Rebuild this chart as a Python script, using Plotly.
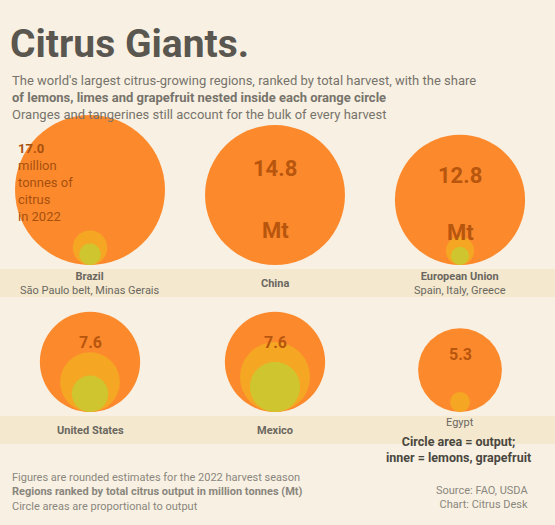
import plotly.graph_objects as go
import numpy as np

# ---- data ----
regions = ["Brazil", "China", "European Union", "United States", "Mexico", "Egypt"]
total_mt = [17.0, 14.8, 12.8, 7.6, 7.6, 5.3]        # all citrus, million tonnes
mid_mt = [0.9, 0.0, 0.6, 2.7, 3.7, 0.3]              # lemons & limes
inner_mt = [0.35, 0.0, 0.25, 1.0, 1.9, 0.0]          # grapefruit
region_notes = ["São Paulo belt, Minas Gerais", "Guangxi, Hunan", "Spain, Italy, Greece",
                "Florida, California", "Veracruz", "Nile Delta"]

W, H = 555, 525
BG = "#f8f1e3"
ORANGE = "#fc8a2d"
AMBER = "#f5a623"
LIME = "#cfc52f"

cols_x = [90, 275, 460]
row_base = [265, 412]
k = 75 / np.sqrt(max(total_mt))   # px radius per sqrt(Mt)

fig = go.Figure()

# ground bands
for b in row_base:
    fig.add_shape(type="rect", x0=0, x1=W, y0=b + 4, y1=b + 32, fillcolor="#f2e7c9",
                  line_width=0, layer="below", opacity=0.8)

for i, name in enumerate(regions):
    cx = cols_x[i % 3]
    base = row_base[i // 3]
    for vals, col in ((total_mt, ORANGE), (mid_mt, AMBER), (inner_mt, LIME)):
        v = vals[i]
        if v <= 0:
            continue
        r = k * np.sqrt(v)
        fig.add_trace(go.Scatter(x=[cx], y=[base - r], mode="markers",
                                 marker=dict(size=2 * r, color=col, line_width=0),
                                 hoverinfo="text", hovertext=f"{name}: {v} Mt",
                                 showlegend=False))
    r0 = k * np.sqrt(total_mt[i])
    cy = base - r0
    if i > 0:
        fig.add_annotation(x=cx, y=cy - r0 * 0.38, text=f"<b>{total_mt[i]:.1f}</b>",
                           showarrow=False, font=dict(size=22 if i < 3 else 16, color="#b8560e"))
        if i < 3:
            fig.add_annotation(x=cx, y=cy + r0 * 0.5, text="<b>Mt</b>",
                               showarrow=False, font=dict(size=22, color="#b8560e"))
    # label below
    if i < 5:
        fig.add_annotation(x=cx, y=base + 18,
                           text=f"<b>{name}</b><br>{region_notes[i]}" if i in (0, 2) else f"<b>{name}</b>",
                           showarrow=False, font=dict(size=11, color="#6b675f"), align="center")

# panel 1 notes
fig.add_annotation(x=16, y=182, xanchor="left",
                   text="<b>17.0</b><br>million<br>tonnes of<br>citrus<br>in 2022",
                   showarrow=False, font=dict(size=13, color="#a8500e"), align="left")

# panel 6 label
fig.add_annotation(x=460, y=422, text="Egypt", showarrow=False, font=dict(size=11, color="#6b675f"))
fig.add_annotation(x=458, y=449, text="<b>Circle area = output;<br>inner = lemons, grapefruit</b>",
                   showarrow=False, font=dict(size=12.5, color="#4a4741"), align="center")

# title and subtitle
fig.add_annotation(x=8, y=44, xanchor="left", text="<b>Citrus Giants.</b>",
                   showarrow=False, font=dict(size=39, color="#5a5650", family="Roboto"))
fig.add_annotation(x=10, y=97, xanchor="left", align="left",
                   text="The world's largest citrus-growing regions, ranked by total harvest, with the share<br>"
                        "<b>of lemons, limes and grapefruit nested inside each orange circle</b><br>"
                        "Oranges and tangerines still account for the bulk of every harvest",
                   showarrow=False, font=dict(size=13, color="#77736b"))
# footer
fig.add_annotation(x=10, y=492, xanchor="left", align="left",
                   text="Figures are rounded estimates for the 2022 harvest season<br>"
                        "<b>Regions ranked by total citrus output in million tonnes (Mt)</b><br>"
                        "Circle areas are proportional to output",
                   showarrow=False, font=dict(size=11, color="#8a867d"))
fig.add_annotation(x=530, y=497, xanchor="right", align="right",
                   text="Source: FAO, USDA<br>Chart: Citrus Desk",
                   showarrow=False, font=dict(size=11, color="#8a867d"))

fig.update_layout(width=W, height=H, margin=dict(l=0, r=0, t=0, b=0),
                  paper_bgcolor=BG, plot_bgcolor=BG,
                  font=dict(family="Roboto"),
                  xaxis=dict(range=[0, W], visible=False, fixedrange=True),
                  yaxis=dict(range=[H, 0], visible=False, fixedrange=True),
                  showlegend=False)
fig.write_html("out.html")
